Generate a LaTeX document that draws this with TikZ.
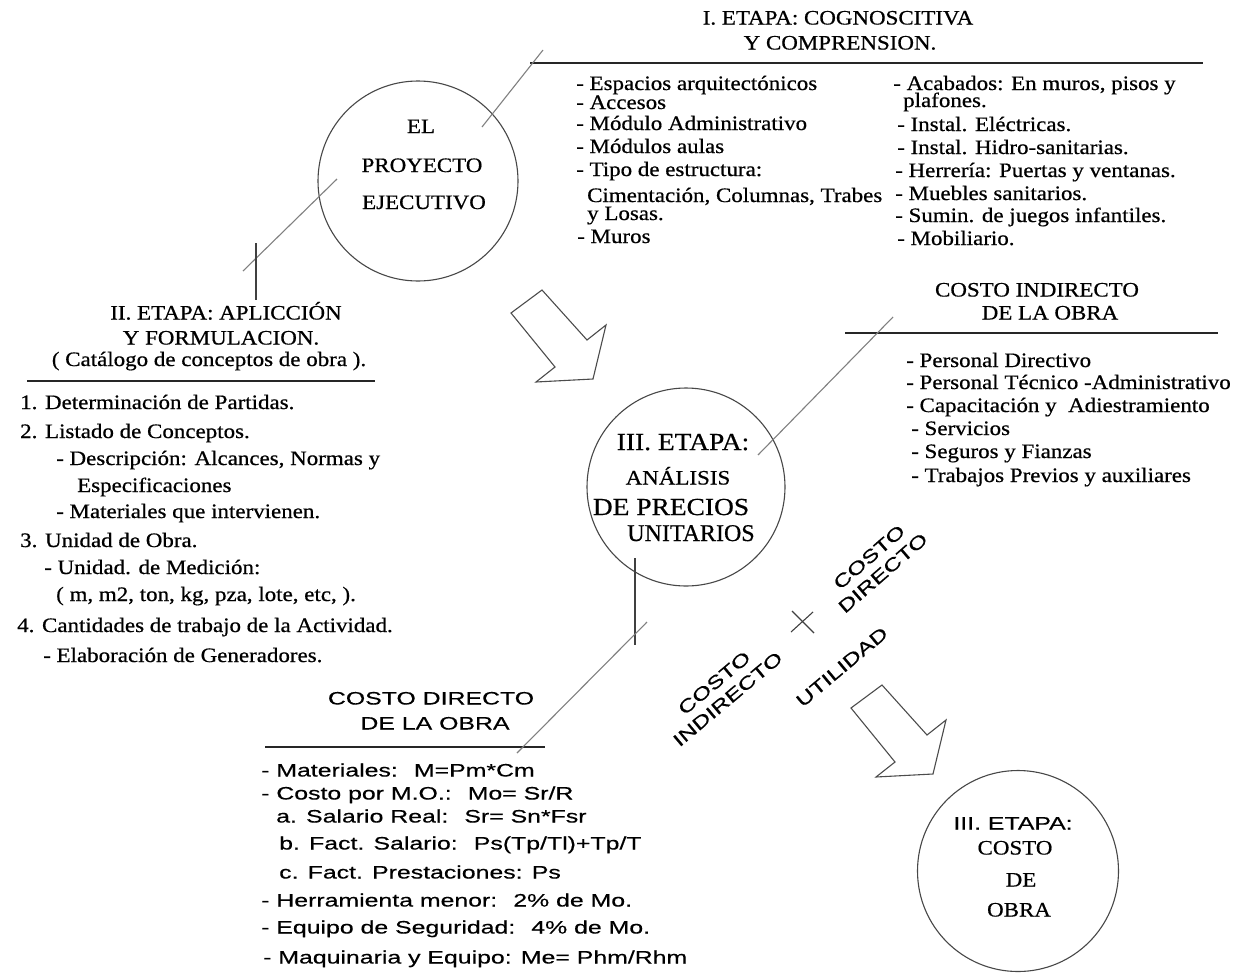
\documentclass[tikz,border=0pt]{standalone}
\usepackage{fontspec}
\setmainfont{Liberation Serif}[FakeStretch=1.12, FakeBold=0.6]
\newfontfamily\sanswide{Liberation Sans}[FakeStretch=1.38, FakeBold=0.4]
\newfontfamily\serifwide{Liberation Serif}[FakeStretch=1.12, FakeBold=0.6]
\newfontfamily\serifnarrow{Liberation Serif}[FakeBold=0.6]

\begin{document}
\begin{tikzpicture}[x=1pt,y=-1pt,
  txt/.style={inner sep=0pt, font=\fontsize{20.5}{23}\selectfont},
  bigtxt/.style={inner sep=0pt, font=\serifwide\fontsize{24.5}{28}\selectfont},
  sans/.style={inner sep=0pt, font=\sanswide\fontsize{18}{21}\selectfont},
  item/.style={txt, anchor=base west},
  sitem/.style={sans, anchor=base west},
  head/.style={txt, anchor=base},
  shead/.style={sans, anchor=base},
  ring/.style={circle, draw=black!72, line width=1.1pt, minimum size=#1, inner sep=0pt},
  rule/.style={draw=black!85, line width=1.2pt},
  link/.style={draw=black!50, line width=1.1pt},
  tick/.style={draw=black!75, line width=1.2pt},
  blockarrow/.style={draw=black!70, line width=1.1pt, line join=miter},
]
\useasboundingbox (0,0) rectangle (1237,975);
\fill[white] (0,0) rectangle (1237,975);

% ---------- stage circles ----------
\node[ring=200pt] (c1) at (418,181) {};
\node[ring=198pt] (c2) at (686,487) {};
\node[ring=201pt] (c3) at (1018,871) {};

\node[head] (c1a) at (421,133) {EL};
\node[head] (c1b) at (422,172) {PROYECTO};
\node[head] (c1c) at (424,209) {EJECUTIVO};

\node[bigtxt, anchor=base] (c2a) at (683,450) {III. ETAPA:};
\node[head] (c2b) at (678,484.5) {ANÁLISIS};
\node[bigtxt, anchor=base] (c2c) at (671,515) {DE PRECIOS};
\node[inner sep=0pt, font=\serifnarrow\fontsize{24}{28}\selectfont, anchor=base] (c2d) at (691,541) {UNITARIOS};

\node[shead] (c3a) at (1013,829.5) {III. ETAPA:};
\node[head] (c3b) at (1015,854.5) {COSTO};
\node[head] (c3c) at (1021,886.5) {DE};
\node[head] (c3d) at (1019,916.5) {OBRA};

% ---------- I. ETAPA ----------
\node[head] (t1a) at (838,24.5) {I. ETAPA: COGNOSCITIVA};
\node[head] (t1b) at (840,49.5) {Y COMPRENSION.};
\coordinate (r1w) at (530,63);
\coordinate (r1e) at (1203,63);
\draw[rule] (r1w) -- (r1e);

\node[item] (a1) at (576,90) {- Espacios arquitectónicos};
\node[item] (a2) at (576,109) {- Accesos};
\node[item] (a3) at (576,130) {- Módulo Administrativo};
\node[item] (a4) at (576,153) {- Módulos aulas};
\node[item] (a5) at (576,176) {- Tipo de estructura:};
\node[item] (a6) at (587,202) {Cimentación, Columnas, Trabes};
\node[item] (a7) at (587,220) {y Losas.};
\node[item] (a8) at (577,243) {- Muros};

\node[item] (b1) at (893,90) {- Acabados: En muros, pisos y};
\node[item] (b2) at (903,107) {plafones.};
\node[item] (b3) at (897,131) {- Instal. Eléctricas.};
\node[item] (b4) at (897,154) {- Instal. Hidro-sanitarias.};
\node[item] (b5) at (895,177) {- Herrería: Puertas y ventanas.};
\node[item] (b6) at (895,200) {- Muebles sanitarios.};
\node[item] (b7) at (895,222) {- Sumin. de juegos infantiles.};
\node[item] (b8) at (897,245) {- Mobiliario.};

% ---------- II. ETAPA ----------
\node[head] (t2a) at (226,319.5) {II. ETAPA: APLICCIÓN};
\node[head] (t2b) at (221,344.5) {Y FORMULACION.};
\node[head] (t2c) at (209,366) {( Catálogo de conceptos de obra ).};
\coordinate (r2w) at (27,381);
\coordinate (r2e) at (375,381);
\draw[rule] (r2w) -- (r2e);

\node[item] (d1) at (20,409) {1. Determinación de Partidas.};
\node[item] (d2) at (20,438) {2. Listado de Conceptos.};
\node[item] (d3) at (56,465) {- Descripción: Alcances, Normas y};
\node[item] (d4) at (77,492) {Especificaciones};
\node[item] (d5) at (56,518) {- Materiales que intervienen.};
\node[item] (d6) at (20,547) {3. Unidad de Obra.};
\node[item] (d7) at (44,574) {- Unidad. de Medición:};
\node[item] (d8) at (56,601) {( m, m2, ton, kg, pza, lote, etc, ).};
\node[item] (d9) at (17,632) {4. Cantidades de trabajo de la Actividad.};
\node[item] (d10) at (43,662) {- Elaboración de Generadores.};

% ---------- COSTO INDIRECTO ----------
\node[head] (t3a) at (1037,296.5) {COSTO INDIRECTO};
\node[head] (t3b) at (1050,319.5) {DE LA OBRA};
\coordinate (r3w) at (845,333);
\coordinate (r3e) at (1218,333);
\draw[rule] (r3w) -- (r3e);

\node[item] (e1) at (906,367) {- Personal Directivo};
\node[item] (e2) at (906,389) {- Personal Técnico -Administrativo};
\node[item] (e3) at (906,412) {- Capacitación y~ Adiestramiento};
\node[item] (e4) at (911,435) {- Servicios};
\node[item] (e5) at (911,458) {- Seguros y Fianzas};
\node[item] (e6) at (911,482) {- Trabajos Previos y auxiliares};

% ---------- COSTO DIRECTO ----------
\node[shead] (t4a) at (431,704.5) {COSTO DIRECTO};
\node[shead] (t4b) at (435,729.5) {DE LA OBRA};
\coordinate (r4w) at (265,747);
\coordinate (r4e) at (545,747);
\draw[rule] (r4w) -- (r4e);

\node[sitem] (f1) at (261,776.5) {- Materiales:~ M=Pm*Cm};
\node[sitem] (f2) at (261,799.5) {- Costo por M.O.:~ Mo= Sr/R};
\node[sitem] (f3) at (276,822.5) {a. Salario Real:~ Sr= Sn*Fsr};
\node[sitem] (f4) at (279,849.5) {b. Fact. Salario:~ Ps(Tp/Tl)+Tp/T};
\node[sitem] (f5) at (279,878.5) {c. Fact. Prestaciones: Ps};
\node[sitem] (f6) at (261,906.5) {- Herramienta menor:~ 2\% de Mo.};
\node[sitem] (f7) at (261,933.5) {- Equipo de Seguridad:~ 4\% de Mo.};
\node[sitem] (f8) at (263,963.5) {- Maquinaria y Equipo: Me= Phm/Rhm};

% ---------- sum of costs ----------
\node[sans, rotate=41, align=center] (g1) at (876,565) {COSTO\\DIRECTO};
\node[sans, rotate=40, align=center] (g2) at (721,691) {COSTO\\INDIRECTO};
\node[sans, rotate=40] (g3) at (842,667) {UTILIDAD};
\coordinate (x1) at (792,611);
\coordinate (x2) at (814,633);
\coordinate (x3) at (791,632);
\coordinate (x4) at (813,612);
\draw[tick, line width=1.1pt] (x1) -- (x2);
\draw[tick, line width=1.1pt] (x3) -- (x4);

% ---------- leader lines ----------
\coordinate (p1) at (482,127);
\coordinate (p2) at (543,50);
\draw[link] (p1) -- (p2);

\coordinate (p3) at (337,179);
\coordinate (p4) at (243,271);
\draw[link] (p3) -- (p4);
\coordinate (p5) at (256,243);
\coordinate (p6) at (256,300);
\draw[tick] (p5) -- (p6);

\coordinate (p7) at (758,455);
\coordinate (p8) at (893,317);
\draw[link] (p7) -- (p8);

\coordinate (p9) at (635,558);
\coordinate (p10) at (635,645);
\draw[tick] (p9) -- (p10);
\coordinate (p11) at (647,622);
\coordinate (p12) at (517,753);
\draw[link] (p11) -- (p12);

% ---------- block arrows ----------
\foreach \ax/\ay in {511/313, 851/708}
  \draw[blockarrow, shift={(\ax,\ay)}]
    (0,0) -- (31,-23) -- (76,27) -- (95,12) -- (82,66) -- (25,69) -- (44,54) -- cycle;
\end{tikzpicture}
\end{document}
